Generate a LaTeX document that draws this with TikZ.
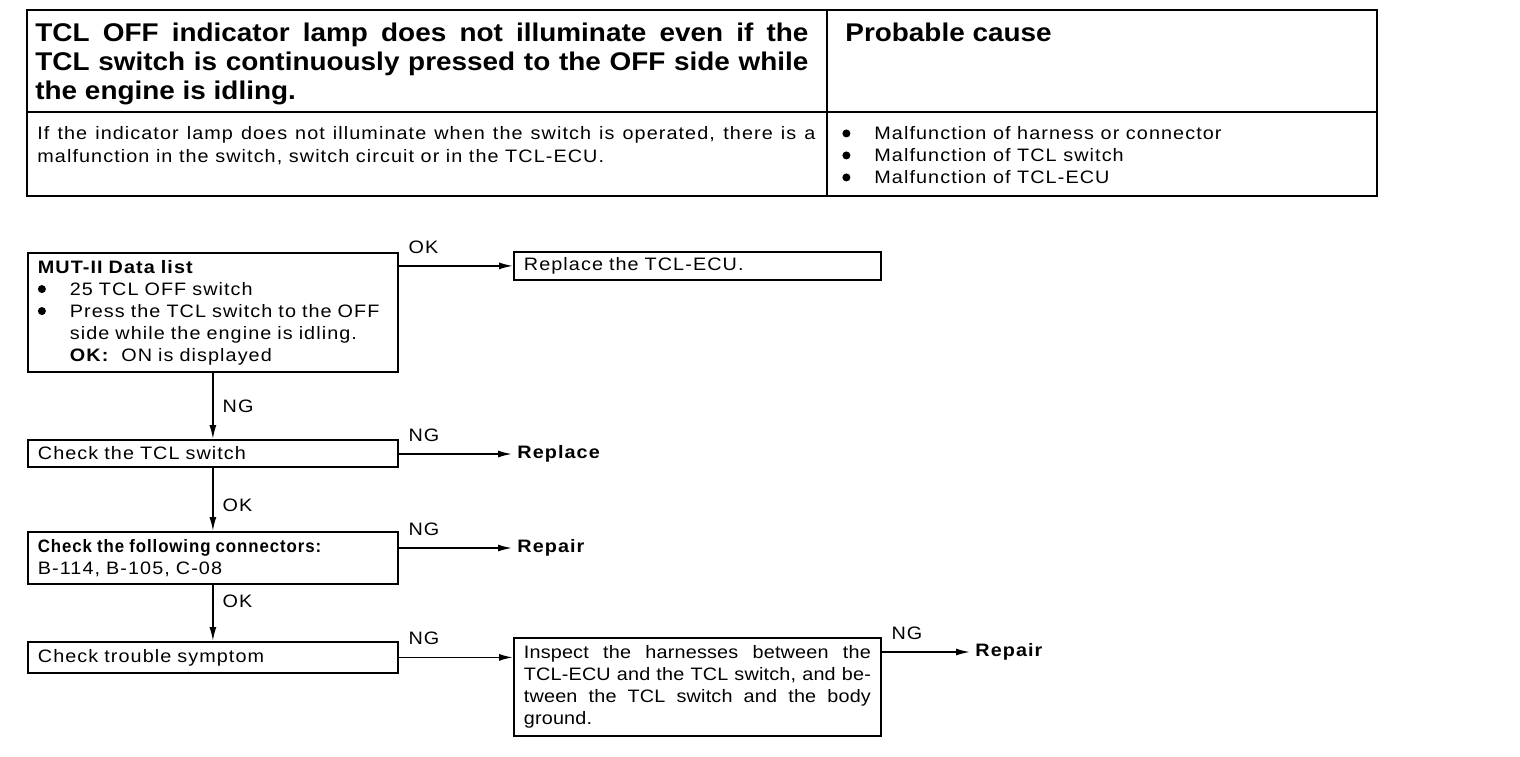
\documentclass[tikz,border=0pt]{standalone}
\usepackage{fontspec}
\setmainfont{Liberation Sans}[FakeStretch=1.1, LetterSpace=6]
\newfontfamily\tightfont{Liberation Sans}[FakeStretch=1.1, LetterSpace=1]
\newfontfamily\titlefont{Liberation Sans}[FakeStretch=1.09]
\usetikzlibrary{arrows.meta}
\newcommand{\blt}{\makebox[16pt][l]{\tikz[baseline=0pt]\fill (2pt,3pt) circle (2pt);}}

\begin{document}
\begin{tikzpicture}[x=0.5pt, y=-0.5pt, >={Latex[length=7pt,width=3.5pt]},
  every node/.style={font=\fontsize{9}{11}\selectfont},
  box/.style={draw, line width=0.9pt, anchor=north west, inner xsep=5pt, inner ysep=2pt, align=left},
  txt/.style={anchor=north west, inner sep=0pt},
  head/.style={txt, font=\titlefont\fontsize{12.8}{14.5}\selectfont\bfseries},
  res/.style={anchor=west, inner xsep=2.5pt, inner ysep=0pt, font=\fontsize{9}{11}\selectfont\bfseries},
  hlbl/.style={pos=0, anchor=south west, inner sep=0pt, xshift=4.5pt, yshift=5.75pt},
  vlbl/.style={anchor=west, inner sep=0pt, xshift=4.5pt},
  flow/.style={->, line width=0.8pt}]
  \useasboundingbox (0,0) rectangle (1520,756);

  \draw[line width=1pt] (27,10) rectangle (1377,196);
  \draw[line width=1pt] (827,10) -- (827,196) (27,112) -- (1377,112);
  \node[head, text width=386.5pt, align=justify] (title) at (35,23)
    {TCL OFF indicator lamp does not illuminate even if the\linebreak TCL switch is continuously pressed to the OFF side while\linebreak the engine is idling.};
  \node[head] (cause) at (845,23) {Probable cause};
  \node[txt, text width=389pt, align=justify, font=\fontsize{9}{11.5}\selectfont] (desc) at (37,126)
    {If the indicator lamp does not illuminate when the switch is operated, there is a\linebreak malfunction in the switch, switch circuit or in the TCL-ECU.};
  \node[txt, align=left] (causes) at (842,126)
    {\blt Malfunction of harness or connector\\ \blt Malfunction of TCL switch\\ \blt Malfunction of TCL-ECU};

  \node[box, text width=175pt, minimum height=59.5pt] (mut) at (27,252)
    {\textbf{MUT-II Data list}\\ \blt 25 TCL OFF switch\\ \blt Press the TCL switch to the OFF\\ \hspace*{16pt}side while the engine is idling.\\ \hspace*{16pt}\textbf{OK:}\hspace{3pt} ON is displayed};
  \node[box, text width=173.5pt, minimum height=14pt] (ecu) at (513,251) {Replace the TCL-ECU.};
  \node[box, text width=175pt, minimum height=13.5pt] (sw) at (27,439) {Check the TCL switch};
  \node[box, text width=175pt, minimum height=26pt] (conn) at (27,531)
    {\scalebox{0.85}[1]{\textbf{Check the following connectors:}}\\ B-114, B-105, C-08};
  \node[box, text width=175pt, minimum height=15.5pt] (symp) at (27,641) {Check trouble symptom};
  \node[box, text width=173.5pt, minimum height=49pt, align=justify, font=\tightfont\fontsize{9}{11}\selectfont] (harn) at (513,637)
    {Inspect the harnesses between the\linebreak TCL-ECU and the TCL switch, and be-\linebreak tween the TCL switch and the body\linebreak ground.};
  \node[res] (rep1) at (512,454) {Replace};
  \node[res] (rep2) at (512,548) {Repair};
  \node[res] (rep3) at (970,652) {Repair};

  \draw[flow] (mut.east |- ecu.west) -- node[hlbl] {OK} (ecu.west);
  \draw[flow] (mut.south) -- node[vlbl, pos=0.5] {NG} (sw.north);
  \draw[flow] (sw.east |- rep1.west) -- node[hlbl] {NG} (rep1.west);
  \draw[flow] (sw.south) -- node[vlbl, pos=0.6] {OK} (conn.north);
  \draw[flow] (conn.east |- rep2.west) -- node[hlbl] {NG} (rep2.west);
  \draw[flow] (conn.south) -- node[vlbl, pos=0.3] {OK} (symp.north);
  \draw[flow] (symp.east) -- node[hlbl] {NG} (symp.east -| harn.west);
  \draw[flow] (harn.east |- rep3.west) -- node[hlbl] {NG} (rep3.west);
\end{tikzpicture}
\end{document}
